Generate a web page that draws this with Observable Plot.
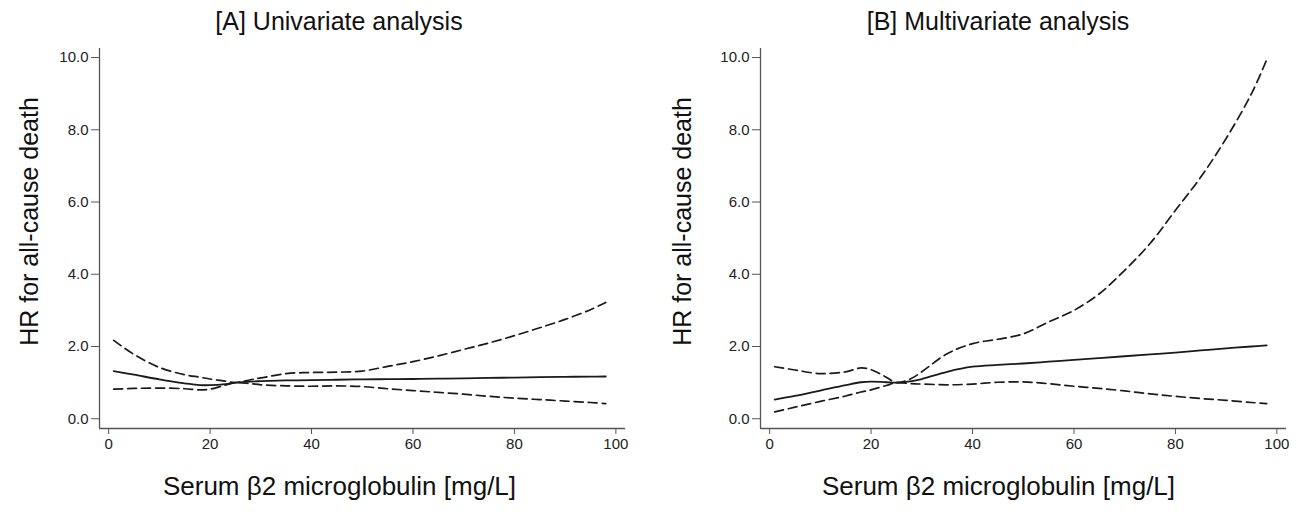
<!DOCTYPE html>
<html><head><meta charset="utf-8">
<script src="https://cdn.jsdelivr.net/npm/d3@7"></script>
<script src="https://cdn.jsdelivr.net/npm/@observablehq/plot@0.6"></script>
<style>
body{margin:0;background:#fff;}
#wrap{display:flex;width:1298px;height:512px;overflow:hidden;}
.panel{position:relative;width:649px;height:512px;}
.title{position:absolute;top:0;width:400px;height:36px;line-height:42px;font-family:'Liberation Sans',Arial,sans-serif;font-size:25px;color:#111;text-align:center;white-space:nowrap;}
.panel svg{position:absolute;top:36px;left:0;}
</style></head>
<body><div id="wrap"></div>
<script>
// shared x grid (Serum β2 microglobulin, mg/L)
const xs = [1,5,10,15,18,20,23,25,28,30,35,40,45,50,55,60,65,70,75,80,85,90,95,98];

// [A] Univariate
const hrA  = [1.32,1.22,1.09,0.98,0.93,0.93,0.96,1.00,1.03,1.04,1.06,1.07,1.08,1.09,1.095,1.10,1.11,1.12,1.13,1.14,1.15,1.16,1.165,1.17];
const hiA  = [2.17,1.78,1.42,1.22,1.15,1.10,1.04,1.00,1.08,1.13,1.25,1.28,1.29,1.32,1.45,1.58,1.74,1.92,2.10,2.30,2.52,2.75,3.02,3.22];
const loA  = [0.82,0.84,0.85,0.83,0.80,0.82,0.93,1.00,0.97,0.94,0.91,0.90,0.91,0.89,0.83,0.78,0.73,0.68,0.62,0.57,0.53,0.49,0.45,0.42];

// [B] Multivariate
const hrB  = [0.53,0.63,0.78,0.93,1.01,1.03,1.01,1.00,1.04,1.10,1.30,1.44,1.49,1.53,1.58,1.63,1.68,1.73,1.78,1.83,1.89,1.95,2.00,2.03];
const hiB  = [1.44,1.35,1.25,1.30,1.41,1.36,1.15,1.00,1.12,1.30,1.80,2.08,2.20,2.35,2.68,3.00,3.46,4.11,4.85,5.77,6.69,7.76,9.00,9.94];
const loB  = [0.19,0.32,0.48,0.63,0.74,0.80,0.92,1.00,0.97,0.96,0.94,0.96,1.01,1.02,0.97,0.90,0.84,0.77,0.69,0.62,0.56,0.51,0.45,0.42];

const titles = ["[A] Univariate analysis", "[B] Multivariate analysis"];
const xLabel = "Serum β2 microglobulin [mg/L]";
const yLabel = "HR for all-cause death";
const xTicks = [0,20,40,60,80,100];
const yTicks = [0,2,4,6,8,10];
const xDomain = [-1.8, 101.9];
const yDomain = [-0.27, 10.25];

const panels = [
  {title: titles[0], hr: hrA, hi: hiA, lo: loA, ml: 99, mr: 24, titleC: 339, yLabDx: -70, xLabDx: -23},
  {title: titles[1], hr: hrB, hi: hiB, lo: loB, ml: 111, mr: 12, titleC: 349, yLabDx: -78, xLabDx: -25}
];

const font = "'Liberation Sans', Arial, sans-serif";
const ink = "#1a1a1a";
const axisInk = "#555";

const wrap = document.getElementById("wrap");
for (const p of panels) {
  const rows = xs.map((x, i) => ({x, hr: p.hr[i], hi: p.hi[i], lo: p.lo[i]}));
  const div = document.createElement("div");
  div.className = "panel";
  const t = document.createElement("div");
  t.className = "title";
  t.style.left = (p.titleC - 200) + "px";
  t.textContent = p.title;
  div.appendChild(t);
  const chart = Plot.plot({
    width: 649, height: 476,
    marginLeft: p.ml, marginRight: p.mr, marginTop: 12, marginBottom: 84,
    style: {fontFamily: font, fontSize: "15px", color: "#222", background: "#fff"},
    x: {domain: xDomain},
    y: {domain: yDomain},
    marks: [
      Plot.ruleX([xDomain[0]], {stroke: axisInk, strokeWidth: 1.3}),
      Plot.ruleY([yDomain[0]], {stroke: axisInk, strokeWidth: 1.3}),
      Plot.axisX({ticks: xTicks, tickFormat: d => String(d), tickSize: 6, tickPadding: 4, label: null, stroke: axisInk, fill: "#222", fontSize: 15}),
      Plot.axisY({ticks: yTicks, tickFormat: d => d.toFixed(1), tickSize: 8, tickPadding: 3, label: null, stroke: axisInk, fill: "#222", fontSize: 15}),
      Plot.line(rows, {x: "x", y: "hi", curve: "catmull-rom", stroke: ink, strokeWidth: 1.7, strokeDasharray: "9,5"}),
      Plot.line(rows, {x: "x", y: "lo", curve: "catmull-rom", stroke: ink, strokeWidth: 1.7, strokeDasharray: "9,5"}),
      Plot.line(rows, {x: "x", y: "hr", curve: "catmull-rom", stroke: ink, strokeWidth: 1.8}),
      Plot.text([xLabel], {frameAnchor: "bottom", textAnchor: "middle", dy: 66, dx: p.xLabDx, fontSize: 26, fill: "#111"}),
      Plot.text([yLabel], {frameAnchor: "left", textAnchor: "middle", rotate: -90, dx: p.yLabDx, dy: -17, fontSize: 25, fill: "#111"})
    ]
  });
  div.appendChild(chart);
  wrap.appendChild(div);
}
</script>
</body></html>
